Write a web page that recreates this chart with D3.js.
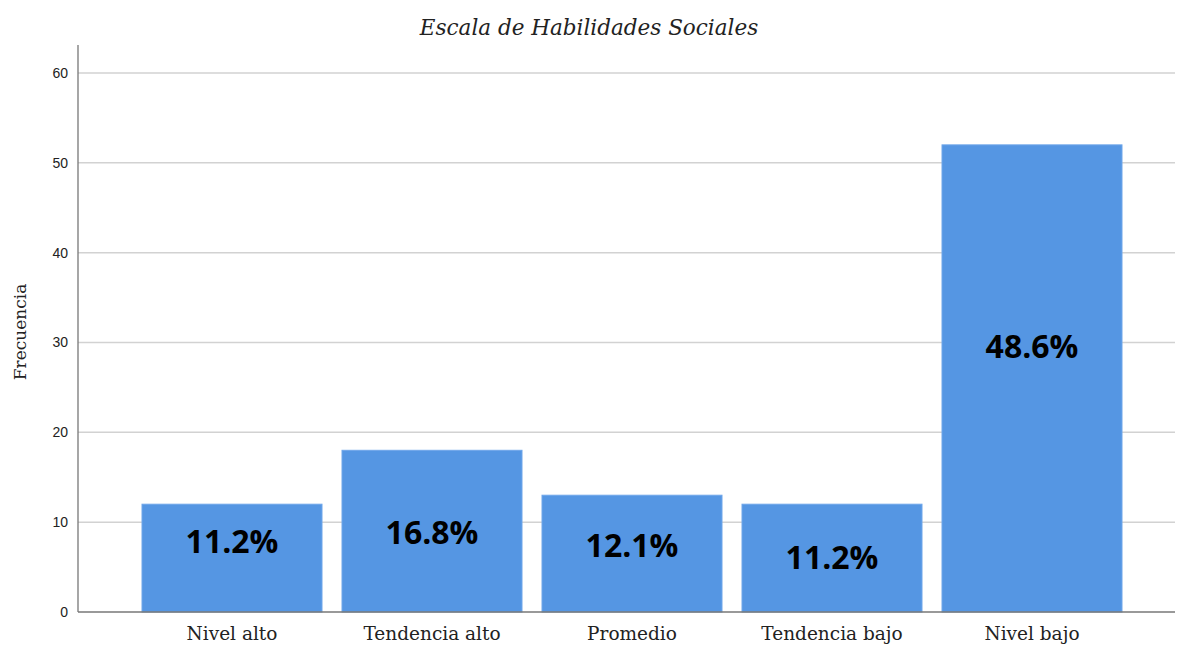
<!DOCTYPE html>
<html>
<head>
<meta charset="utf-8">
<script src="https://cdn.jsdelivr.net/npm/d3@7"></script>
<style>
  body { margin: 0; background: #fff; }
</style>
</head>
<body>
<div id="chart"></div>
<script>
const categories = ["Nivel alto", "Tendencia alto", "Promedio", "Tendencia bajo", "Nivel bajo"];
const counts = [12, 18, 13, 12, 52];
const percentLabels = ["11.2%", "16.8%", "12.1%", "11.2%", "48.6%"];
// where each percent label sits, in frequency units
const labelAt = [7.9, 8.8, 7.45, 6.1, 29.6];
const yTicks = [0, 10, 20, 30, 40, 50, 60];

const svg = d3.select("#chart").append("svg")
    .attr("width", 1177)
    .attr("height", 647);

const margin = { top: 45, right: 2, bottom: 35, left: 78 };

const x = d3.scaleBand()
    .domain(categories)
    .range([132, 1132])
    .paddingInner(0.1)
    .paddingOuter(0.05);

const y = d3.scaleLinear()
    .domain([0, 60])
    .range([612, 73]);

// gridlines
svg.append("g")
    .selectAll("line")
    .data(yTicks.slice(1))
    .join("line")
    .attr("x1", margin.left)
    .attr("x2", 1175)
    .attr("y1", d => y(d))
    .attr("y2", d => y(d))
    .attr("stroke", "#d2d2d2")
    .attr("stroke-width", 1.5);

// bars
svg.selectAll(".bar")
    .data(categories)
    .join("rect")
    .attr("class", "bar")
    .attr("x", d => x(d))
    .attr("y", (d, i) => y(counts[i]))
    .attr("width", x.bandwidth())
    .attr("height", (d, i) => y(0) - y(counts[i]))
    .attr("fill", "#5596e3")
    .attr("stroke", "#6ea6ea")
    .attr("stroke-width", 1);

// y axis
const yAxis = svg.append("g")
    .attr("transform", `translate(${margin.left},0)`)
    .call(d3.axisLeft(y).tickValues(yTicks).tickSize(0).tickPadding(10));
yAxis.select(".domain").remove();
yAxis.selectAll("text")
    .attr("font-family", "Liberation Sans, Arial, sans-serif")
    .attr("font-size", 14)
    .attr("fill", "#222");
svg.append("line")
    .attr("x1", margin.left).attr("x2", margin.left)
    .attr("y1", margin.top).attr("y2", y(0))
    .attr("stroke", "#777").attr("stroke-width", 1.3);

// x axis
const xAxis = svg.append("g")
    .attr("transform", `translate(0,${y(0)})`)
    .call(d3.axisBottom(x).tickSize(0).tickPadding(15));
xAxis.select(".domain").remove();
xAxis.selectAll("text")
    .attr("font-family", "DejaVu Serif, serif")
    .attr("font-size", 18.5)
    .attr("fill", "#222");
svg.append("line")
    .attr("x1", margin.left).attr("x2", 1175)
    .attr("y1", y(0)).attr("y2", y(0))
    .attr("stroke", "#777").attr("stroke-width", 1.3);

// percent labels
svg.selectAll(".pct")
    .data(categories)
    .join("text")
    .attr("class", "pct")
    .attr("x", d => x(d) + x.bandwidth() / 2)
    .attr("y", (d, i) => y(labelAt[i]))
    .attr("dy", "0.36em")
    .attr("text-anchor", "middle")
    .attr("font-family", "Open Sans, sans-serif")
    .attr("font-weight", "bold")
    .attr("font-size", 32)
    .attr("fill", "#000")
    .text((d, i) => percentLabels[i]);

// title
svg.append("text")
    .attr("x", 589)
    .attr("y", 35)
    .attr("text-anchor", "middle")
    .attr("font-family", "DejaVu Serif, serif")
    .attr("font-style", "italic")
    .attr("font-size", 21.5)
    .attr("fill", "#222")
    .text("Escala de Habilidades Sociales");

// y axis title
svg.append("text")
    .attr("transform", `translate(26,${332}) rotate(-90)`)
    .attr("text-anchor", "middle")
    .attr("font-family", "DejaVu Serif, serif")
    .attr("font-size", 17)
    .attr("fill", "#222")
    .text("Frecuencia");
</script>
</body>
</html>
